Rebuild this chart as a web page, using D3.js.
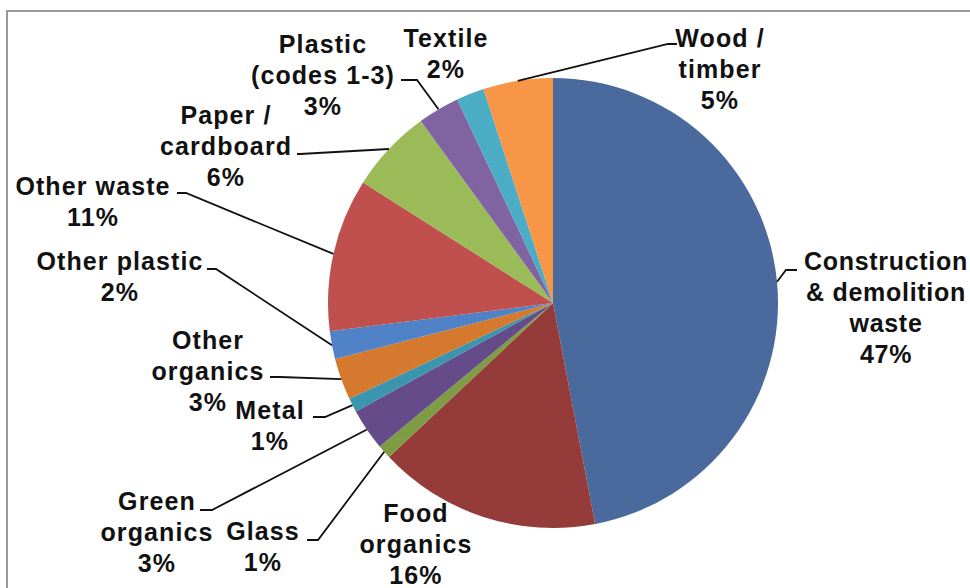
<!DOCTYPE html>
<html><head><meta charset="utf-8">
<script src="https://cdn.jsdelivr.net/npm/d3@7"></script>
<style>html,body{margin:0;padding:0;background:#fff;}svg{display:block;}</style>
</head><body>
<svg id="chart" width="970" height="588"></svg>
<script>
const categories = ["Construction & demolition waste","Food organics","Glass","Green organics","Metal","Other organics","Other plastic","Other waste","Paper / cardboard","Plastic (codes 1-3)","Textile","Wood / timber"];
const values = [47,16,1,3,1,3,2,11,6,3,2,5];
const labelLines = [["Construction","& demolition","waste"],["Food","organics"],["Glass"],["Green","organics"],["Metal"],["Other","organics"],["Other plastic"],["Other waste"],["Paper /","cardboard"],["Plastic","(codes 1-3)"],["Textile"],["Wood /","timber"]];
const colors = ["#4A6A9E","#953C3B","#7E9C43","#654B8A","#3C95AE","#D4792E","#5082C8","#C0504D","#9BBB59","#8064A2","#4BACC6","#F79646"];

// label layout: text centre x, first baseline y, leader end & elbow (null = no leader)
const labelLayout = [
  {x:886,y:270,end:[797,270],elbow:[786,270],ls:0.7},
  {x:416,y:522,end:null},
  {x:263,y:540,end:[307,540],elbow:[318,540]},
  {x:157,y:510,end:[200,510],elbow:[212,510]},
  {x:270,y:419,end:[313,417],elbow:[325,417]},
  {x:208,y:349,end:[270,377],elbow:[280,377]},
  {x:120,y:270,end:[207,269],elbow:[216,269]},
  {x:93,y:195,end:[177,193],elbow:[186,193]},
  {x:226,y:124,end:[297,154],elbow:[300,154]},
  {x:323,y:53,end:[401,80],elbow:[417,80]},
  {x:446,y:47,end:null},
  {x:720,y:47,end:[677,44],elbow:[668,44]}
];

const svg = d3.select("#chart");
svg.append("rect").attr("x",7).attr("y",11).attr("width",1000).attr("height",600)
  .attr("fill","#fff").attr("stroke","#9a9a9a").attr("stroke-width",2);

const cx = 553, cy = 303, r = 225;
const total = d3.sum(values);
const data = categories.map((c,i)=>({name:c,value:values[i],pct:Math.round(values[i]/total*100),i}));
const pie = d3.pie().value(d=>d.value).sort(null);
const arcs = pie(data);
const arc = d3.arc().innerRadius(0).outerRadius(r);

const g = svg.append("g").attr("transform",`translate(${cx},${cy})`);
g.selectAll("path").data(arcs).enter().append("path")
  .attr("d",arc).attr("fill",d=>colors[d.data.i]).attr("stroke","none");

// leader lines
arcs.forEach(a=>{
  const L = labelLayout[a.data.i];
  if(!L.end) return;
  const mid = (a.startAngle+a.endAngle)/2;
  const px = cx + r*Math.sin(mid), py = cy - r*Math.cos(mid);
  svg.append("polyline")
    .attr("points",[[px,py],L.elbow,L.end].map(p=>p.join(",")).join(" "))
    .attr("fill","none").attr("stroke","#111").attr("stroke-width",1.8);
});

// labels
const lh = 31;
arcs.forEach(a=>{
  const L = labelLayout[a.data.i];
  const lines = labelLines[a.data.i].concat([a.data.pct+"%"]);
  const t = svg.append("text").attr("text-anchor","middle")
    .attr("font-family","'Liberation Sans', Arial, sans-serif")
    .attr("font-weight","bold").attr("font-size",25).attr("fill","#111")
    .attr("letter-spacing",L.ls != null ? L.ls : 1.1);
  lines.forEach((s,k)=>{
    t.append("tspan").attr("x",L.x).attr("y",L.y+k*lh).text(s);
  });
});
</script>
</body></html>
